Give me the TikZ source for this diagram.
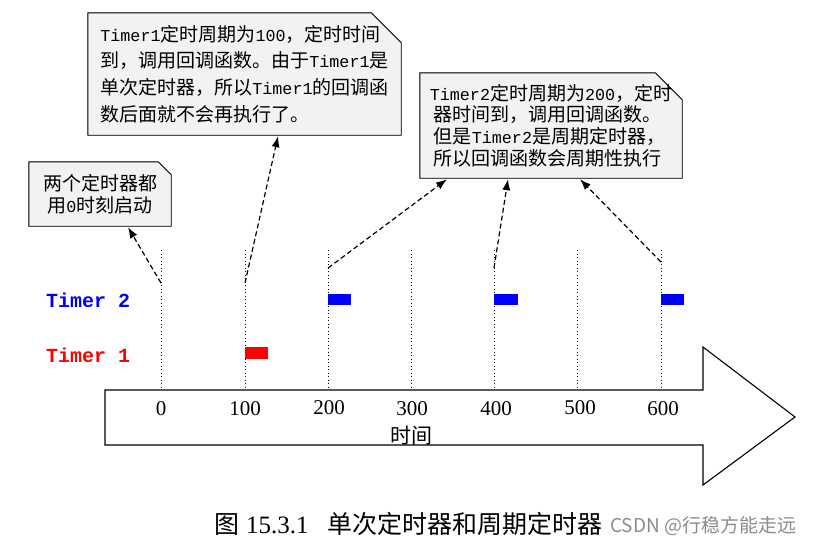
\documentclass[tikz,border=0pt]{standalone}
\usepackage{fontspec}
\newfontfamily\cjk{Noto Sans CJK SC}
\newfontfamily\mono[Scale=0.88]{Liberation Mono}
\newfontfamily\monolbl{Liberation Mono}
\newfontfamily\serif{Liberation Serif}
\usetikzlibrary{arrows.meta,backgrounds}
\definecolor{boxfill}{RGB}{242,242,242}
\newcommand\mycallout[2]{%
  \fill[black,shift={(1.6,1.6)}] (#1.north west) -- ([xshift=-#2pt]#1.north east) -- ([yshift=-#2pt]#1.north east) -- (#1.south east) -- (#1.south west) -- cycle;
  \draw[boxline] (#1.north west) -- ([xshift=-#2pt]#1.north east) -- ([yshift=-#2pt]#1.north east) -- (#1.south east) -- (#1.south west) -- cycle;}
\begin{document}
\begin{tikzpicture}[x=1pt,y=-1pt,
  callout/.style={rectangle, inner sep=0pt, align=left},
  boxline/.style={draw=black, fill=boxfill, line width=0.9pt},
  tickline/.style={line width=0.9pt, dash pattern=on 0.9pt off 2.6pt},
  ticklbl/.style={inner sep=0pt, font=\fontsize{21}{21}\serif},
  timerlbl/.style={anchor=west, inner sep=0pt, font=\fontsize{20}{20}\monolbl\bfseries},
  pointer/.style={line width=1.2pt, dash pattern=on 5pt off 3pt, -{Latex[length=11pt,width=8pt]}},
  bigarrow/.style={draw=black, fill=white, line width=1.1pt, line join=miter}]
\useasboundingbox (0,0) rectangle (816,546);

% callout boxes
\node[callout, align=center, minimum width=142pt, minimum height=64pt, font=\fontsize{19}{22}\cjk] (b1) at (100,194)
  {两个定时器都\\用{\mono 0}时刻启动};
\node[callout, minimum width=313pt, minimum height=122pt, font=\fontsize{19}{26.7}\cjk] (b2) at (244.5,74)
  {{\mono Timer1}定时周期为{\mono 100}，定时时间\\到，调用回调函数。由于{\mono Timer1}是\\单次定时器，所以{\mono Timer1}的回调函\\数后面就不会再执行了。};
\node[callout, minimum width=262pt, minimum height=105pt, font=\fontsize{19}{21.7}\cjk] (b3) at (551,125.5)
  {{\mono Timer2}定时周期为{\mono 200}，定时\\\hspace*{4pt}器时间到，调用回调函数。\\\hspace*{4pt}但是{\mono Timer2}是周期定时器，\\\hspace*{4pt}所以回调函数会周期性执行};
\begin{scope}[on background layer]
  \fill[white] (0,0) rectangle (816,546);
  \mycallout{b1}{13}
  \mycallout{b2}{30}
  \mycallout{b3}{27}
\end{scope}

% dotted time lines
\foreach \x in {161,245,328,411,494,577,661} \draw[tickline] (\x,250) -- (\x,390);

% timer labels
\node[timerlbl, text=blue] (lt2) at (46,300) {Timer 2};
\node[timerlbl, text=red] (lt1) at (46,355) {Timer 1};

% timer events
\fill[blue] (328,294) rectangle (351,305);
\fill[blue] (494,294) rectangle (518,305);
\fill[blue] (661,294) rectangle (684,305);
\fill[red] (245,347) rectangle (268,359);

% time arrow
\draw[bigarrow] (105,390) -- (703,390) -- (703,347) -- (795,417) -- (703,485) -- (703,445) -- (105,445) -- cycle;
\node[ticklbl] (t0) at (161,409) {0};
\node[ticklbl] (t1) at (245,409) {100};
\node[ticklbl] (t2) at (329,408) {200};
\node[ticklbl] (t3) at (412,409) {300};
\node[ticklbl] (t4) at (496,409) {400};
\node[ticklbl] (t5) at (580,408) {500};
\node[ticklbl] (t6) at (663,409) {600};
\node[inner sep=0pt, font=\fontsize{21}{21}\cjk] (tl) at (411,436) {时间};

% pointers
\coordinate (s1) at (161,283);
\coordinate (s2) at (245,283);
\coordinate (s3) at (328,268);
\coordinate (s4) at (494,268);
\coordinate (s5) at (661,262);
\draw[pointer] (s1) -- ([xshift=28pt,yshift=-1pt]b1.south);
\draw[pointer] (s2) -- ([xshift=33.5pt,yshift=-1pt]b2.south);
\draw[pointer] (s3) -- ([xshift=-104pt,yshift=-1pt]b3.south);
\draw[pointer] (s4) -- ([xshift=-43pt,yshift=-1pt]b3.south);
\draw[pointer] (s5) -- ([xshift=29pt,yshift=-1pt]b3.south);

% caption
\node[anchor=west, inner sep=0pt, font=\fontsize{25}{25}\cjk] (cap) at (214,524)
  {图\hspace{7pt}{\serif 15.3.1}\hspace{19pt}单次定时器和周期定时器};
\node[anchor=west, inner sep=0pt, font=\fontsize{19}{19}\cjk, text=black!45] (wm) at (610,526) {CSDN @行稳方能走远};
\end{tikzpicture}
\end{document}
